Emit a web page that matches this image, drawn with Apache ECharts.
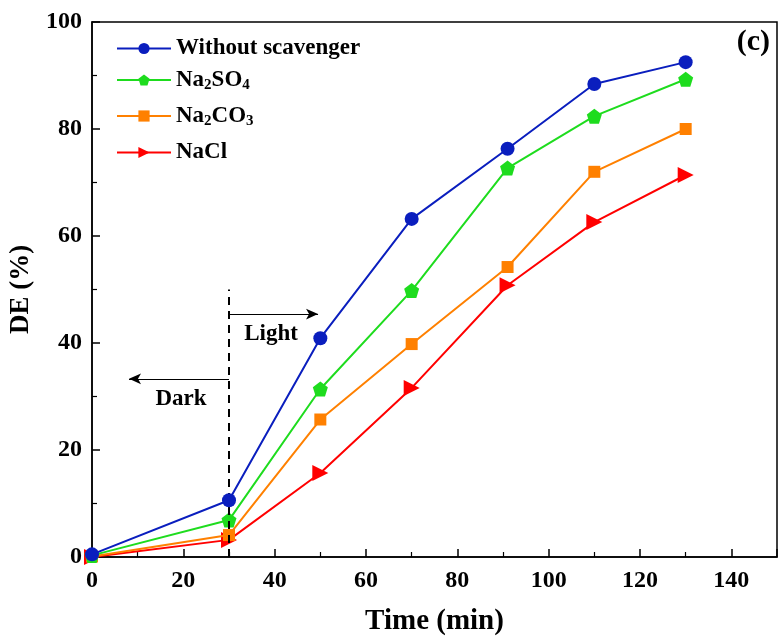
<!DOCTYPE html>
<html><head><meta charset="utf-8">
<script src="https://cdn.jsdelivr.net/npm/echarts@6/dist/echarts.min.js"></script>
<style>html,body{margin:0;padding:0;background:#fff}#c{width:779px;height:641px}</style>
</head><body><div id="c"></div>
<script>
var timeMin = [0, 30, 50, 70, 91, 110, 130];
var withoutScavenger = [0.5, 10.6, 40.9, 63.2, 76.3, 88.4, 92.5];
var na2so4 = [0.3, 6.9, 31.4, 49.8, 72.7, 82.4, 89.3];
var na2co3 = [0.1, 4.1, 25.7, 39.8, 54.2, 72.0, 80.0];
var nacl = [0.0, 3.2, 15.7, 31.6, 50.8, 62.6, 71.4];
var seriesNames = ['Without scavenger', 'Na2SO4', 'Na2CO3', 'NaCl'];
var xTicks = [0, 20, 40, 60, 80, 100, 120, 140];
var yTicks = [0, 20, 40, 60, 80, 100];
var dividerX = 30, dividerTop = 50;
var lightArrow = [[30, 45.4], [49.5, 45.4]];
var darkArrow = [[30, 33.3], [8.1, 33.3]];
var lightLabel = [39.2, 41.6];
var darkLabel = [19.5, 29.6];

var font = '"Liberation Serif","Times New Roman",serif';
var colors = ['#0A1EBE', '#1EDC1E', '#FF8000', '#FF0000'];
var pentagon = 'path://M0,-10 L9.51,-3.09 L5.88,8.09 L-5.88,8.09 L-9.51,-3.09 Z';
var symbols = ['circle', pentagon, 'rect', 'triangle'];
var rotates = [0, 0, 0, -90];
var sizes = [14, 15, 12, 16];
var datas = [withoutScavenger, na2so4, na2co3, nacl];
var legendCenters = [50, 79, 115, 154];

function pairs(ys){ return timeMin.map(function(x,i){return [x, ys[i]];}); }

var series = datas.map(function(d, i){
  return {
    name: seriesNames[i], type: 'line', data: pairs(d),
    symbol: symbols[i], symbolSize: sizes[i], symbolRotate: rotates[i],
    showAllSymbol: true,
    itemStyle: {color: colors[i]}, lineStyle: {color: colors[i], width: 2},
    z: 5 - i, animation: false
  };
});
series.push({
  type: 'line', data: [], silent: true, animation: false,
  markLine: {
    silent: true, symbol: ['none','none'], animation: false,
    label: {show: false},
    data: [
      [{coord: [dividerX, 0], lineStyle: {type: [8, 6], width: 2, color: '#000'}}, {coord: [dividerX, dividerTop]}],
      [{coord: lightArrow[0], symbol: 'none', lineStyle: {type: 'solid', width: 1.2, color: '#000'}}, {coord: lightArrow[1], symbol: 'arrow', symbolSize: [8, 12]}],
      [{coord: darkArrow[0], symbol: 'none', lineStyle: {type: 'solid', width: 1.2, color: '#000'}}, {coord: darkArrow[1], symbol: 'arrow', symbolSize: [8, 12]}]
    ]
  }
});

function legendFmt(name){
  if (name === 'Na2SO4') return '{b|Na}{s|2}{b|SO}{s|4}';
  if (name === 'Na2CO3') return '{b|Na}{s|2}{b|CO}{s|3}';
  return '{b|' + name + '}';
}
var legendText = {
  fontFamily: font, fontWeight: 'bold', fontSize: 23, color: '#000',
  rich: {
    b: {fontFamily: font, fontWeight: 'bold', fontSize: 23, color: '#000', lineHeight: 26},
    s: {fontFamily: font, fontWeight: 'bold', fontSize: 15, color: '#000', lineHeight: 26, padding: [12, 0, 0, 0], verticalAlign: 'bottom'}
  }
};
var legends = seriesNames.map(function(n, i){
  return {
    orient: 'vertical', left: 116, top: legendCenters[i] - 13, itemWidth: 54, itemHeight: 14, padding: 0,
    data: [n], formatter: legendFmt, textStyle: legendText
  };
});

var chart = echarts.init(document.getElementById('c'), null, {renderer: 'canvas'});
chart.setOption({
  animation: false,
  color: colors,
  grid: {left: 92, right: 2, top: 22, bottom: 84, containLabel: false, outerBoundsMode: 'none',
    show: true, borderColor: '#000', borderWidth: 1.5, backgroundColor: 'transparent'},
  legend: legends,
  xAxis: {
    type: 'value', min: 0, max: 150, interval: 20,
    name: 'Time (min)', nameLocation: 'middle', nameGap: 50,
    nameTextStyle: {fontFamily: font, fontWeight: 'bold', fontSize: 29, color: '#000'},
    axisLine: {show: true, lineStyle: {color: '#000', width: 1.5}, onZero: false},
    axisTick: {show: true, inside: true, length: 8, lineStyle: {color: '#000', width: 1.5}},
    minorTick: {show: true, splitNumber: 2, length: 5, lineStyle: {color: '#000', width: 1.2}},
    splitLine: {show: false},
    axisLabel: {fontFamily: font, fontWeight: 'bold', fontSize: 24, color: '#000', margin: 12,
      formatter: function(v){ return xTicks.indexOf(v) >= 0 ? String(v) : ''; }}
  },
  yAxis: {
    type: 'value', min: 0, max: 100, interval: 20,
    name: 'DE (%)', nameLocation: 'middle', nameGap: 57,
    nameTextStyle: {fontFamily: font, fontWeight: 'bold', fontSize: 27, color: '#000'},
    axisLine: {show: true, lineStyle: {color: '#000', width: 1.5}, onZero: false},
    axisTick: {show: true, inside: true, length: 8, lineStyle: {color: '#000', width: 1.5}},
    minorTick: {show: true, splitNumber: 2, length: 5, lineStyle: {color: '#000', width: 1.2}},
    splitLine: {show: false},
    axisLabel: {fontFamily: font, fontWeight: 'bold', fontSize: 24, color: '#000', margin: 10,
      formatter: function(v){ return yTicks.indexOf(v) >= 0 ? String(v) : ''; }}
  },
  series: series
});

var lp = chart.convertToPixel({gridIndex: 0}, lightLabel);
var dp = chart.convertToPixel({gridIndex: 0}, darkLabel);
chart.setOption({
  graphic: [
    {type: 'text', x: lp[0], y: lp[1], style: {text: 'Light', font: 'bold 23px ' + font, fill: '#000', textAlign: 'center', textVerticalAlign: 'middle'}},
    {type: 'text', x: dp[0], y: dp[1], style: {text: 'Dark', font: 'bold 23px ' + font, fill: '#000', textAlign: 'center', textVerticalAlign: 'middle'}},
    {type: 'text', right: 9, top: 27, style: {text: '(c)', font: 'bold 30px ' + font, fill: '#000'}}
  ]
});
</script>
</body></html>
